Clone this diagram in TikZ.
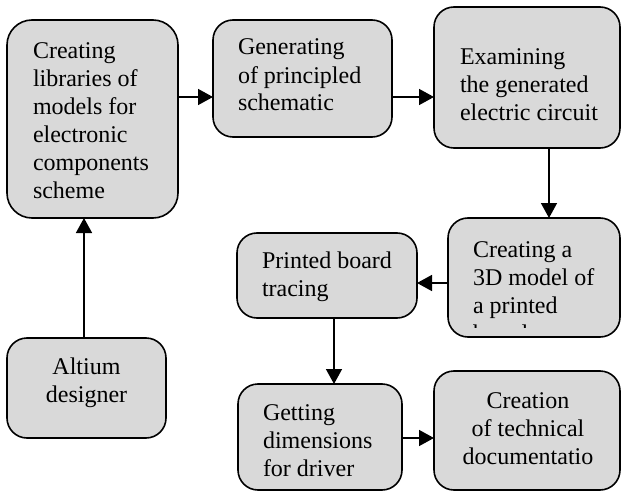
\documentclass[tikz,border=0pt]{standalone}
\usepackage{fontspec}
\setmainfont{Liberation Serif}
\usetikzlibrary{arrows.meta}
\definecolor{boxgray}{HTML}{D9D9D9}
\begin{document}
\begin{tikzpicture}[x=1pt,y=-1pt,
  box/.style={draw=black, line width=1.6pt, fill=boxgray, rounded corners=20pt, inner sep=0pt, outer sep=0pt},
  txt/.style={inner sep=0pt, outer sep=0pt, font=\fontsize{24}{28}\selectfont, align=left, anchor=base west},
  ctxt/.style={txt, align=center, anchor=base},
  arr/.style={line width=1.5pt, -{Triangle[length=15pt,width=16pt]}}]
\useasboundingbox (0,0) rectangle (621,492);
% boxes
\node[box, rounded corners=25pt, minimum width=171pt, minimum height=198pt] (b1) at (92.5,119) {};
\node[box, minimum width=179pt, minimum height=117pt] (b2) at (302.5,78.5) {};
\node[box, minimum width=186pt, minimum height=141pt] (b3) at (527,77.5) {};
\node[box, minimum width=172pt, minimum height=119pt] (b4) at (534,277.5) {};
\node[box, minimum width=180pt, minimum height=85pt] (b5) at (327,275.5) {};
\node[box, minimum width=164pt, minimum height=106pt] (b6) at (320,437) {};
\node[box, minimum width=186pt, minimum height=119pt] (b7) at (527,430.5) {};
\node[box, minimum width=159pt, minimum height=100pt] (b8) at (86.5,388) {};
% texts (anchored at the baseline of their last line)
\node[txt] (t1) at (33,198) {Creating\\libraries of\\models for\\electronic\\components\\scheme};
\node[txt] (t2) at (238,111) {Generating\\of principled\\schematic};
\node[txt] (t3) at (460,121) {Examining\\the generated\\electric circuit};
\begin{scope}
  \clip (448,218) rectangle (620,327);
  \node[txt] (t4) at (473,341) {Creating a\\3D model of\\a printed\\board};
\end{scope}
\node[txt] (t5) at (262,296) {Printed board\\tracing};
\node[txt] (t6) at (263,476) {Getting\\dimensions\\for driver};
\node[ctxt] (t7) at (528,464) {Creation\\of technical\\documentatio};
\node[ctxt] (t8) at (86.5,402) {Altium\\designer};
% connector guides
\coordinate (yA) at (0,97);
\coordinate (x34) at (549,0);
\coordinate (yB) at (0,283);
\coordinate (x56) at (334,0);
\coordinate (yC) at (0,438);
\coordinate (x81) at (84,0);
% connectors
\draw[arr] (b1.east |- yA) -- (b2.west |- yA);
\draw[arr] (b2.east |- yA) -- (b3.west |- yA);
\draw[arr] (b3.south -| x34) -- (b4.north -| x34);
\draw[arr] (b4.west |- yB) -- (b5.east |- yB);
\draw[arr] (b5.south -| x56) -- (b6.north -| x56);
\draw[arr] (b6.east |- yC) -- (b7.west |- yC);
\draw[arr] (b8.north -| x81) -- (b1.south -| x81);
\end{tikzpicture}
\end{document}
